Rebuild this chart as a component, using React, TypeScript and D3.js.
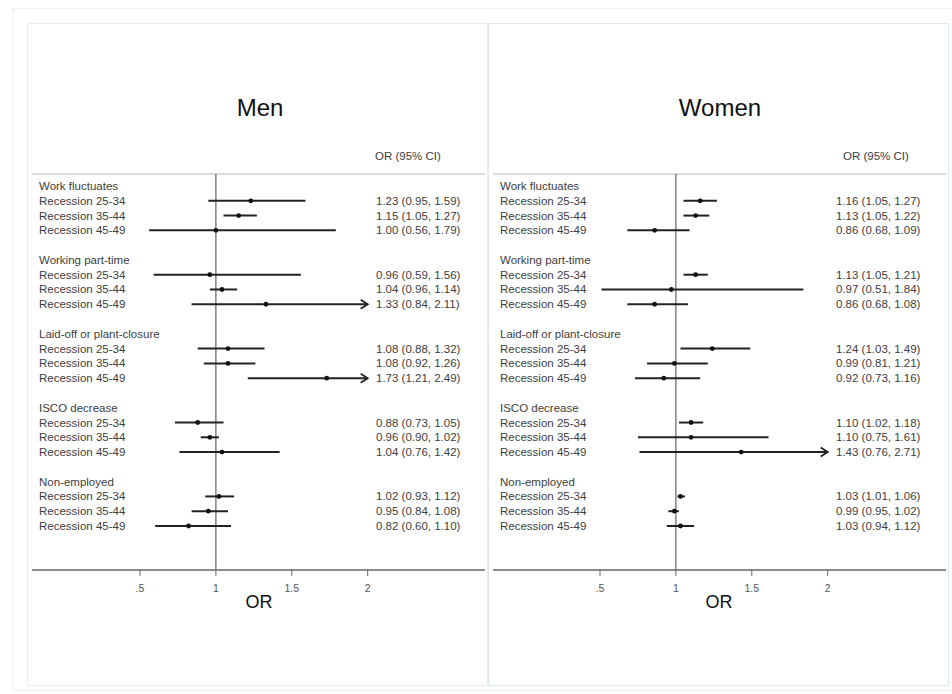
import React, { useEffect, useRef } from 'react';
import * as d3 from 'd3';

const groups = ["Work fluctuates", "Working part-time", "Laid-off or plant-closure", "ISCO decrease", "Non-employed"];
const ageBands = ["Recession 25-34", "Recession 35-44", "Recession 45-49"];

// Men: odds ratios with 95% CI, in group order x age band
const menOR = [1.23, 1.15, 1.00, 0.96, 1.04, 1.33, 1.08, 1.08, 1.73, 0.88, 0.96, 1.04, 1.02, 0.95, 0.82];
const menLo = [0.95, 1.05, 0.56, 0.59, 0.96, 0.84, 0.88, 0.92, 1.21, 0.73, 0.90, 0.76, 0.93, 0.84, 0.60];
const menHi = [1.59, 1.27, 1.79, 1.56, 1.14, 2.11, 1.32, 1.26, 2.49, 1.05, 1.02, 1.42, 1.12, 1.08, 1.10];

// Women
const womenOR = [1.16, 1.13, 0.86, 1.13, 0.97, 0.86, 1.24, 0.99, 0.92, 1.10, 1.10, 1.43, 1.03, 0.99, 1.03];
const womenLo = [1.05, 1.05, 0.68, 1.05, 0.51, 0.68, 1.03, 0.81, 0.73, 1.02, 0.75, 0.76, 1.01, 0.95, 0.94];
const womenHi = [1.27, 1.22, 1.09, 1.21, 1.84, 1.08, 1.49, 1.21, 1.16, 1.18, 1.61, 2.71, 1.06, 1.02, 1.12];

const xTicks = [0.5, 1, 1.5, 2];
const xTickLabels = [".5", "1", "1.5", "2"];

const FONT = "'Liberation Sans', Arial, Helvetica, sans-serif";

const App = () => {
  const svgRef = useRef<SVGSVGElement | null>(null);

  useEffect(() => {
    if (!svgRef.current) return;
    const svg = d3.select(svgRef.current);
    svg.selectAll("*").remove();

    svg.append("rect").attr("width", 952).attr("height", 694).attr("fill", "white");

    // outer frame
    svg.append("rect").attr("x", 12.5).attr("y", 8.5).attr("width", 950).attr("height", 682)
      .attr("fill", "none").attr("stroke", "#edf1f1").attr("stroke-width", 1);

    // row positions: header + 3 rows + blank per group
    const yRow = d3.scaleLinear().domain([0, 23]).range([186, 526]);

    const panels = [
      { title: "Men", or: menOR, lo: menLo, hi: menHi, x0: 27, off: 0, border: "#ececec", hdrX: 375, valX: 376 },
      { title: "Women", or: womenOR, lo: womenLo, hi: womenHi, x0: 488, off: 460, border: "#dbeaee", hdrX: 843, valX: 836 }
    ];

    panels.forEach(p => {
      const g = svg.append("g");
      const x = d3.scaleLinear().domain([0.5, 2]).range([140 + p.off, 367.7 + p.off]);
      const xMax = 2;

      g.append("rect").attr("x", p.x0 + 0.5).attr("y", 23.5).attr("width", 460).attr("height", 662)
        .attr("fill", "none").attr("stroke", p.border).attr("stroke-width", 1);

      g.append("text").attr("x", 260 + p.off).attr("y", 116).attr("text-anchor", "middle")
        .attr("font-family", FONT).attr("font-size", 24).attr("fill", "#111").text(p.title);

      g.append("text").attr("x", p.hdrX).attr("y", 160).attr("font-family", FONT)
        .attr("font-size", 11.5).attr("fill", "#3d3d3d").text("OR (95% CI)");

      // header separator
      g.append("line").attr("x1", p.x0 + 5).attr("x2", p.x0 + 458).attr("y1", 174).attr("y2", 174)
        .attr("stroke", "#cfcfcf").attr("stroke-width", 1.6);

      // reference line at OR = 1
      g.append("line").attr("x1", x(1)).attr("x2", x(1)).attr("y1", 174).attr("y2", 570)
        .attr("stroke", "#555").attr("stroke-width", 1.1);

      // axis
      g.append("line").attr("x1", p.x0 + 5).attr("x2", p.x0 + 458).attr("y1", 570).attr("y2", 570)
        .attr("stroke", "#666").attr("stroke-width", 1.3);
      xTicks.forEach((t, i) => {
        g.append("line").attr("x1", x(t)).attr("x2", x(t)).attr("y1", 570).attr("y2", 576)
          .attr("stroke", "#666").attr("stroke-width", 1);
        g.append("text").attr("x", x(t)).attr("y", 592).attr("text-anchor", "middle")
          .attr("font-family", FONT).attr("font-size", 10.5).attr("fill", "#555").text(xTickLabels[i]);
      });
      g.append("text").attr("x", x(1) + 43).attr("y", 608).attr("text-anchor", "middle")
        .attr("font-family", FONT).attr("font-size", 18).attr("fill", "#111").text("OR");

      groups.forEach((grp, gi) => {
        const base = gi * 5;
        g.append("text").attr("x", p.x0 + 12).attr("y", yRow(base) + 4).attr("font-family", FONT)
          .attr("font-size", 11.5).attr("fill", "#3d3d3d").text(grp);

        ageBands.forEach((band, bi) => {
          const k = gi * 3 + bi;
          const y = yRow(base + 1 + bi);
          const or = p.or[k], lo = p.lo[k], hi = p.hi[k];

          g.append("text").attr("x", p.x0 + 12).attr("y", y + 4).attr("font-family", FONT)
            .attr("font-size", 11.5).attr("fill", "#3d3d3d").text(band);

          g.append("text").attr("x", p.valX).attr("y", y + 4).attr("font-family", FONT)
            .attr("font-size", 11.5).attr("fill", "#3d3d3d")
            .text(`${or.toFixed(2)} (${lo.toFixed(2)}, ${hi.toFixed(2)})`);

          const x2 = x(Math.min(hi, xMax));
          g.append("line").attr("x1", x(lo)).attr("x2", x2).attr("y1", y).attr("y2", y)
            .attr("stroke", "#222").attr("stroke-width", 2);
          if (hi > xMax) {
            g.append("path").attr("d", `M${x2 - 7},${y - 4.5}L${x2},${y}L${x2 - 7},${y + 4.5}`)
              .attr("fill", "none").attr("stroke", "#222").attr("stroke-width", 1.8);
          }
          g.append("circle").attr("cx", x(or)).attr("cy", y).attr("r", 2.4).attr("fill", "#111");
        });
      });
    });
  }, []);

  return (
    <svg ref={svgRef} width={952} height={694}
      style={{ position: 'absolute', left: 0, top: 0, display: 'block' }} />
  );
};

export default App;
